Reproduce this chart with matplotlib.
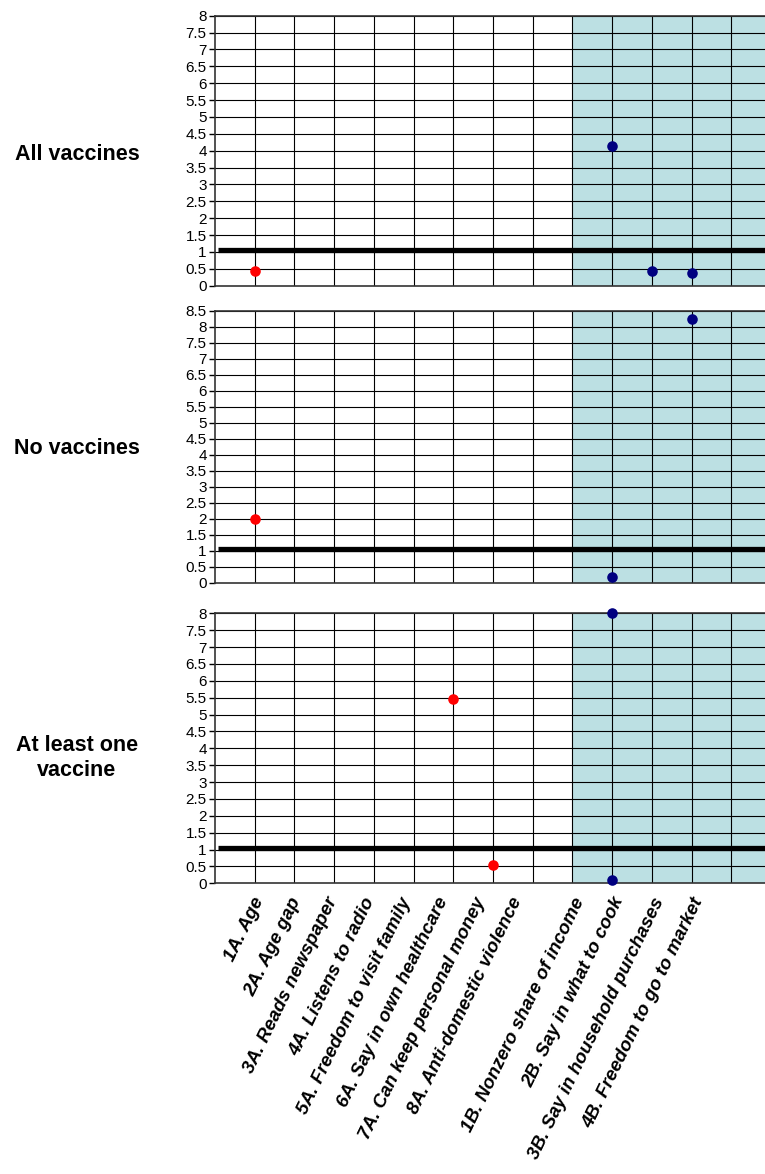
import matplotlib
matplotlib.use('Agg')
import numpy as np
import matplotlib.pyplot as plt
import matplotlib.transforms as mtransforms

# Categories along the x axis (A block, a gap, then B block)
cats_a = ['1A. Age', '2A. Age gap', '3A. Reads newspaper', '4A. Listens to radio',
          '5A. Freedom to visit family', '6A. Say in own healthcare',
          '7A. Can keep personal money', '8A. Anti-domestic violence']
cats_b = ['1B. Nonzero share of income', '2B. Say in what to cook',
          '3B. Say in household purchases', '4B. Freedom to go to market']

row_titles = ['All vaccines', 'No vaccines', 'At least one\nvaccine']
y_tops = [8, 8.5, 8]
ref_value = 1.06

# Points per panel: red = A outcomes, navy = B outcomes
all_a_cats = ['1A. Age']
all_a_vals = [0.44]
all_b_cats = ['1B. Nonzero share of income', '2B. Say in what to cook',
              '3B. Say in household purchases']
all_b_vals = [4.15, 0.44, 0.39]

no_a_cats = ['1A. Age']
no_a_vals = [1.98]
no_b_cats = ['1B. Nonzero share of income', '3B. Say in household purchases']
no_b_vals = [0.19, 8.24]

one_a_cats = ['6A. Say in own healthcare', '7A. Can keep personal money']
one_a_vals = [5.47, 0.54]
one_b_cats = ['1B. Nonzero share of income', '1B. Nonzero share of income']
one_b_vals = [8.0, 0.1]

panels = [
    (all_a_cats, all_a_vals, all_b_cats, all_b_vals),
    (no_a_cats, no_a_vals, no_b_cats, no_b_vals),
    (one_a_cats, one_a_vals, one_b_cats, one_b_vals),
]

# x positions: A at 1..8, empty slot at 9, B at 10..13
xpos = {c: i + 1 for i, c in enumerate(cats_a)}
xpos.update({c: len(cats_a) + 2 + i for i, c in enumerate(cats_b)})
all_cats = cats_a + cats_b
x_max = 13.85
shade_start = len(cats_a) + 1

# label nudges in pixels (the original category labels drift left of the ticks)
label_dx = [5 - 2.8 * i for i in range(len(cats_a))] + [-32] * len(cats_b)
label_dy = -15

plt.rcParams['font.family'] = ['Liberation Sans', 'DejaVu Sans']

fig = plt.figure(figsize=(7.65, 11.74), dpi=100)
H = 1174.0
# axes rectangles in figure fraction (left, bottom, width, height)
rects = [
    (0.281, 0.7566, 0.719, 0.2300),
    (0.281, 0.5037, 0.719, 0.2317),
    (0.281, 0.2476, 0.719, 0.2300),
]
title_y_px = [155, 449, 758]

for k, (rect, ytop, title, pdata) in enumerate(zip(rects, y_tops, row_titles, panels)):
    ax = fig.add_axes(rect)
    a_cats, a_vals, b_cats, b_vals = pdata
    ax.set_xlim(0, x_max)
    ax.set_ylim(0, ytop)

    ax.axvspan(shade_start, x_max, color='#bce0e3', zorder=0, lw=0)

    ax.set_yticks(np.arange(0, ytop + 0.01, 0.5))
    ax.set_yticklabels(['%g' % v for v in np.arange(0, ytop + 0.01, 0.5)], fontsize=11)
    ax.tick_params(axis='y', length=4, width=1, pad=2)

    # grid: horizontal every 0.5, vertical at every category slot
    for yv in np.arange(0.5, ytop + 0.01, 0.5):
        ax.axhline(yv, color='black', lw=0.8, zorder=1)
    for xv in range(1, int(x_max) + 1):
        ax.axvline(xv, color='black', lw=0.8, zorder=1)

    ax.plot([0.08, x_max], [ref_value, ref_value], color='black', lw=3.8, zorder=2,
            solid_capstyle='butt')

    ax.scatter([xpos[c] for c in a_cats], a_vals, s=58, color='#ff0000', zorder=4,
               clip_on=False, linewidths=0)
    ax.scatter([xpos[c] for c in b_cats], b_vals, s=58, color='#000080', zorder=4,
               clip_on=False, linewidths=0)

    for side in ['left', 'bottom', 'top']:
        ax.spines[side].set_color('#333333')
        ax.spines[side].set_linewidth(1.2)
    ax.spines['right'].set_visible(False)

    ax.set_xticks([xpos[c] for c in all_cats])
    ax.set_xticklabels([])
    ax.tick_params(axis='x', length=0)
    if k == 2:
        base = mtransforms.blended_transform_factory(ax.transData, ax.transAxes)
        for c, dx in zip(all_cats, label_dx):
            offset = mtransforms.ScaledTranslation(dx / 100, label_dy / 100,
                                                   fig.dpi_scale_trans)
            ax.text(xpos[c], 0, c, transform=base + offset, rotation=64,
                    ha='right', va='center', rotation_mode='anchor',
                    fontsize=13.5, fontweight='bold', fontstyle='italic',
                    clip_on=False)

    fig.text(77 / 765, 1 - title_y_px[k] / H, title, ha='center', va='center',
             fontsize=15.5, fontweight='bold', linespacing=1.2)

plt.savefig('out.png', dpi=100)
print("saved out.png")
